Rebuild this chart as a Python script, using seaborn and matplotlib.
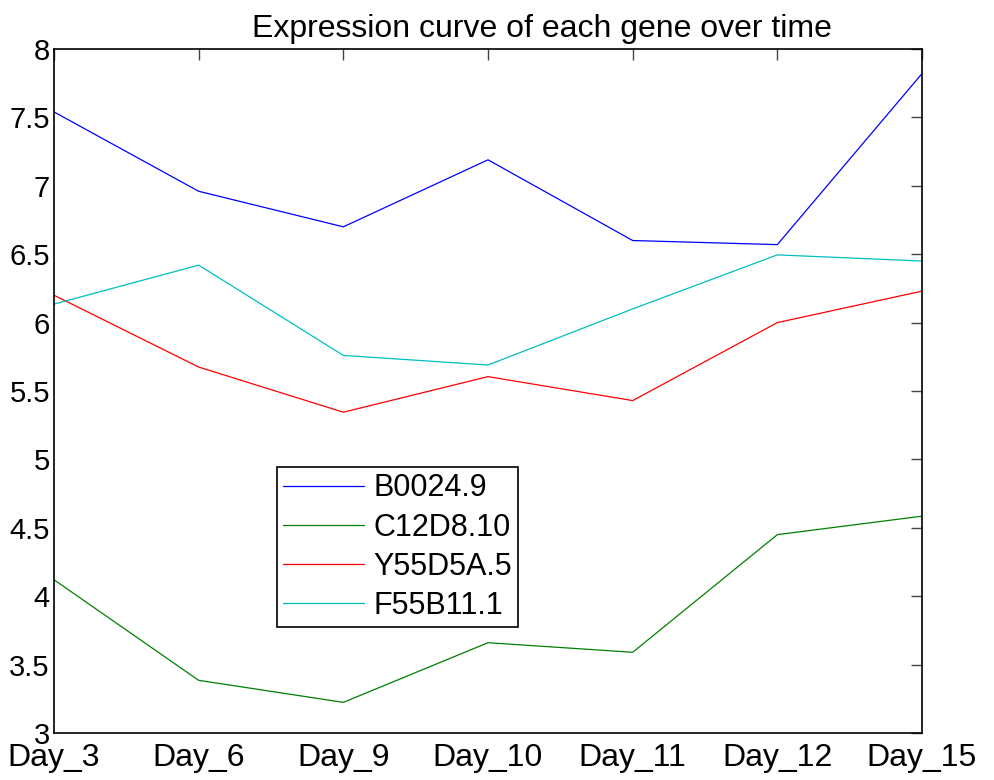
import matplotlib
matplotlib.use("Agg")
import matplotlib.pyplot as plt
import seaborn as sns
import pandas as pd

# Time points and expression levels per gene
days = ["Day_3", "Day_6", "Day_9", "Day_10", "Day_11", "Day_12", "Day_15"]
genes = ["B0024.9", "C12D8.10", "Y55D5A.5", "F55B11.1"]
b0024_9 = [7.54, 6.96, 6.70, 7.19, 6.60, 6.57, 7.82]
c12d8_10 = [4.12, 3.385, 3.224, 3.66, 3.59, 4.45, 4.585]
y55d5a_5 = [6.20, 5.675, 5.345, 5.605, 5.43, 6.00, 6.23]
f55b11_1 = [6.135, 6.42, 5.76, 5.69, 6.10, 6.495, 6.45]
colors = ["#0000ff", "#008000", "#ff0000", "#00bfbf"]

series = [b0024_9, c12d8_10, y55d5a_5, f55b11_1]
df = pd.DataFrame({
    "day": [d for _ in genes for d in days],
    "gene": [g for g in genes for _ in days],
    "value": [v for s in series for v in s],
})

sns.set_style("white")
plt.rcParams["font.family"] = ["Liberation Sans", "DejaVu Sans"]
plt.rcParams["text.color"] = "black"
plt.rcParams["xtick.labelcolor"] = "black"
plt.rcParams["ytick.labelcolor"] = "black"

fig = plt.figure(figsize=(9.95, 7.8), dpi=100)
ax = fig.add_axes([54 / 995, 1 - 733 / 780, 868 / 995, 684 / 780])

sns.lineplot(data=df, x="day", y="value", hue="gene", hue_order=genes,
             palette=colors, linewidth=0.9, ax=ax, sort=False)

ax.set_xlim(0, len(days) - 1)
ax.set_ylim(3, 8)
ax.set_xticks(range(len(days)))
ax.set_xticklabels(days)
ax.set_yticks([3, 3.5, 4, 4.5, 5, 5.5, 6, 6.5, 7, 7.5, 8])
ax.set_yticklabels(["3", "3.5", "4", "4.5", "5", "5.5", "6", "6.5", "7", "7.5", "8"])
ax.set_xlabel("")
ax.set_ylabel("")
ax.tick_params(direction="in", length=8, width=1, color="#444444",
               top=True, right=True)
ax.tick_params(axis="x", labelsize=23, pad=7)
ax.tick_params(axis="y", labelsize=21, pad=3)
for sp in ax.spines.values():
    sp.set_visible(True)
    sp.set_color("black")
    sp.set_linewidth(1.2)

ax.set_title("Expression curve of each gene over time", fontsize=23,
             color="black", x=(542 - 54) / 868, pad=9)

leg = ax.legend(loc="lower left", bbox_to_anchor=((277 - 54) / 868, (733 - 627) / 684),
                fontsize=22, frameon=True, fancybox=False, framealpha=1,
                edgecolor="black", handlelength=2.65, handletextpad=0.3,
                labelspacing=0.3, borderpad=0.2, borderaxespad=0)
leg.get_frame().set_linewidth(1.2)

fig.savefig("out.png", dpi=100)
